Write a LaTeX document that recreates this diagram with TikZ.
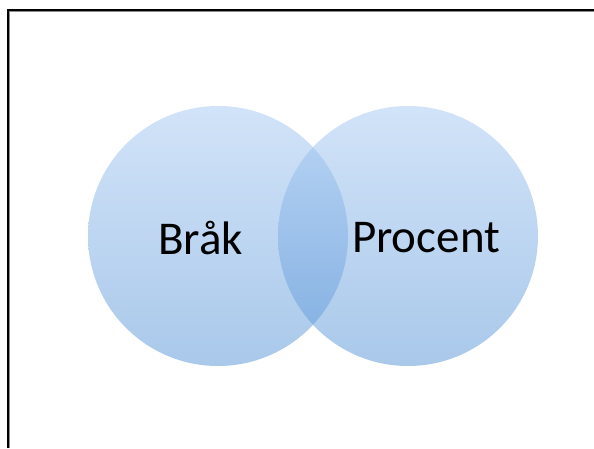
\documentclass[tikz,border=0pt]{standalone}
\usepackage{fontspec}
\setmainfont{Carlito}
\begin{document}
\begin{tikzpicture}[x=1pt,y=-1pt,
  setcircle/.style={circle, inner sep=0pt, minimum size=260pt,
    top color=setTop, bottom color=setBottom, fill opacity=0.5, draw=none},
  setlabel/.style={font=\fontsize{47}{56}\selectfont, text=black, inner sep=0pt}]
\definecolor{setTop}{RGB}{165,200,242}
\definecolor{setBottom}{RGB}{84,146,214}
\useasboundingbox (0,0) rectangle (594,448);
% frame: top and left edges
\draw[line width=2.2pt, black] (8,448) -- (8,10) -- (594,10);
\draw[line width=0.8pt, black!45] (9.5,448) -- (9.5,11.5) -- (594,11.5);
% overlapping sets
\node[setcircle] (fr) at (218,236) {};
\node[setcircle] (pc) at (408,236) {};
% labels
\node[setlabel] (frl) at (200.5,238) {Bråk};
\node[setlabel] (pcl) at (426,238) {Procent};
\end{tikzpicture}
\end{document}
